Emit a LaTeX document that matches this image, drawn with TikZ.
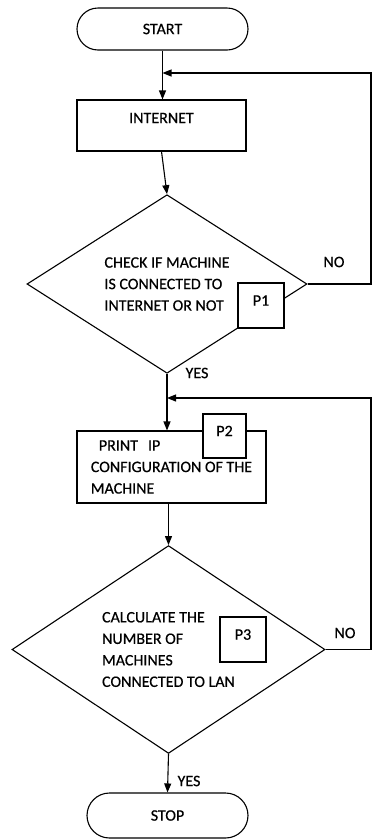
\documentclass[tikz,border=0pt]{standalone}
\usepackage{fontspec}
\setmainfont{Carlito}[FakeBold=0.5]
\usetikzlibrary{shapes.geometric,shapes.misc,arrows.meta}

\begin{document}
\begin{tikzpicture}[x=1pt,y=-1pt,line width=1.1pt,
  every node/.style={font=\fontsize{16}{21.5}\selectfont},
  term/.style={draw,rounded rectangle,minimum width=#1,inner sep=0pt},
  proc/.style={draw,rectangle,inner sep=0pt},
  decision/.style={draw,diamond,inner sep=0pt,align=left},
  pbox/.style={draw,fill=white,rectangle,inner sep=0pt,minimum width=46pt,minimum height=45pt,text depth=10pt},
  arr/.style={-{Triangle[length=9pt,width=7pt]}}]
\useasboundingbox (0,0) rectangle (372,839);
\node[term=171pt,minimum height=42pt] (start) at (162.5,29) {START};
\node[proc,minimum width=169pt,minimum height=51pt,text depth=15pt] (internet) at (161.5,125.5) {INTERNET};
\node[decision,minimum width=280pt,minimum height=148pt] (check) at (167,284) {CHECK IF MACHINE\\IS CONNECTED TO\\INTERNET OR NOT};
\node[pbox] (p1) at (261,305.5) {P1};
\node[proc,minimum width=189pt,minimum height=72pt,align=left] (print) at (171.5,467) {\hspace*{8pt}PRINT\hspace{10pt}IP\\CONFIGURATION OF THE\\MACHINE};
\node[pbox,minimum width=43pt,minimum height=44pt] (p2) at (224.5,436) {P2};
\node[decision,minimum width=313pt,minimum height=180pt] (calc) at (168.5,649.5) {CALCULATE THE\\NUMBER OF\\MACHINES\\CONNECTED TO LAN};
\node[pbox] (p3) at (243,639.5) {P3};
\node[term=161pt,minimum height=45pt] (stop) at (167.5,815.5) {STOP};
\node (no1) at (334,262) {NO};
\node (yes1) at (197,373) {YES};
\node (no2) at (345,633) {NO};
\node (yes2) at (189,781) {YES};
\coordinate (loop1) at (371,73);
\coordinate (loop2) at (371,398);
\draw[arr] (start.south) -- (start.south |- internet.north);
\draw[arr] (internet.south) -- (check.north);
\draw[arr] (check.south) -- (check.south |- print.north);
\draw[arr] (calc.north |- print.south) -- (calc.north);
\draw[arr] (calc.south) -- (stop.north);
\draw[arr] (check.east) -- (check.east -| loop1) -- (loop1) -- (loop1 -| start.south);
\draw[arr] (calc.east) -- (calc.east -| loop2) -- (loop2) -- (loop2 -| check.south);
\end{tikzpicture}
\end{document}
